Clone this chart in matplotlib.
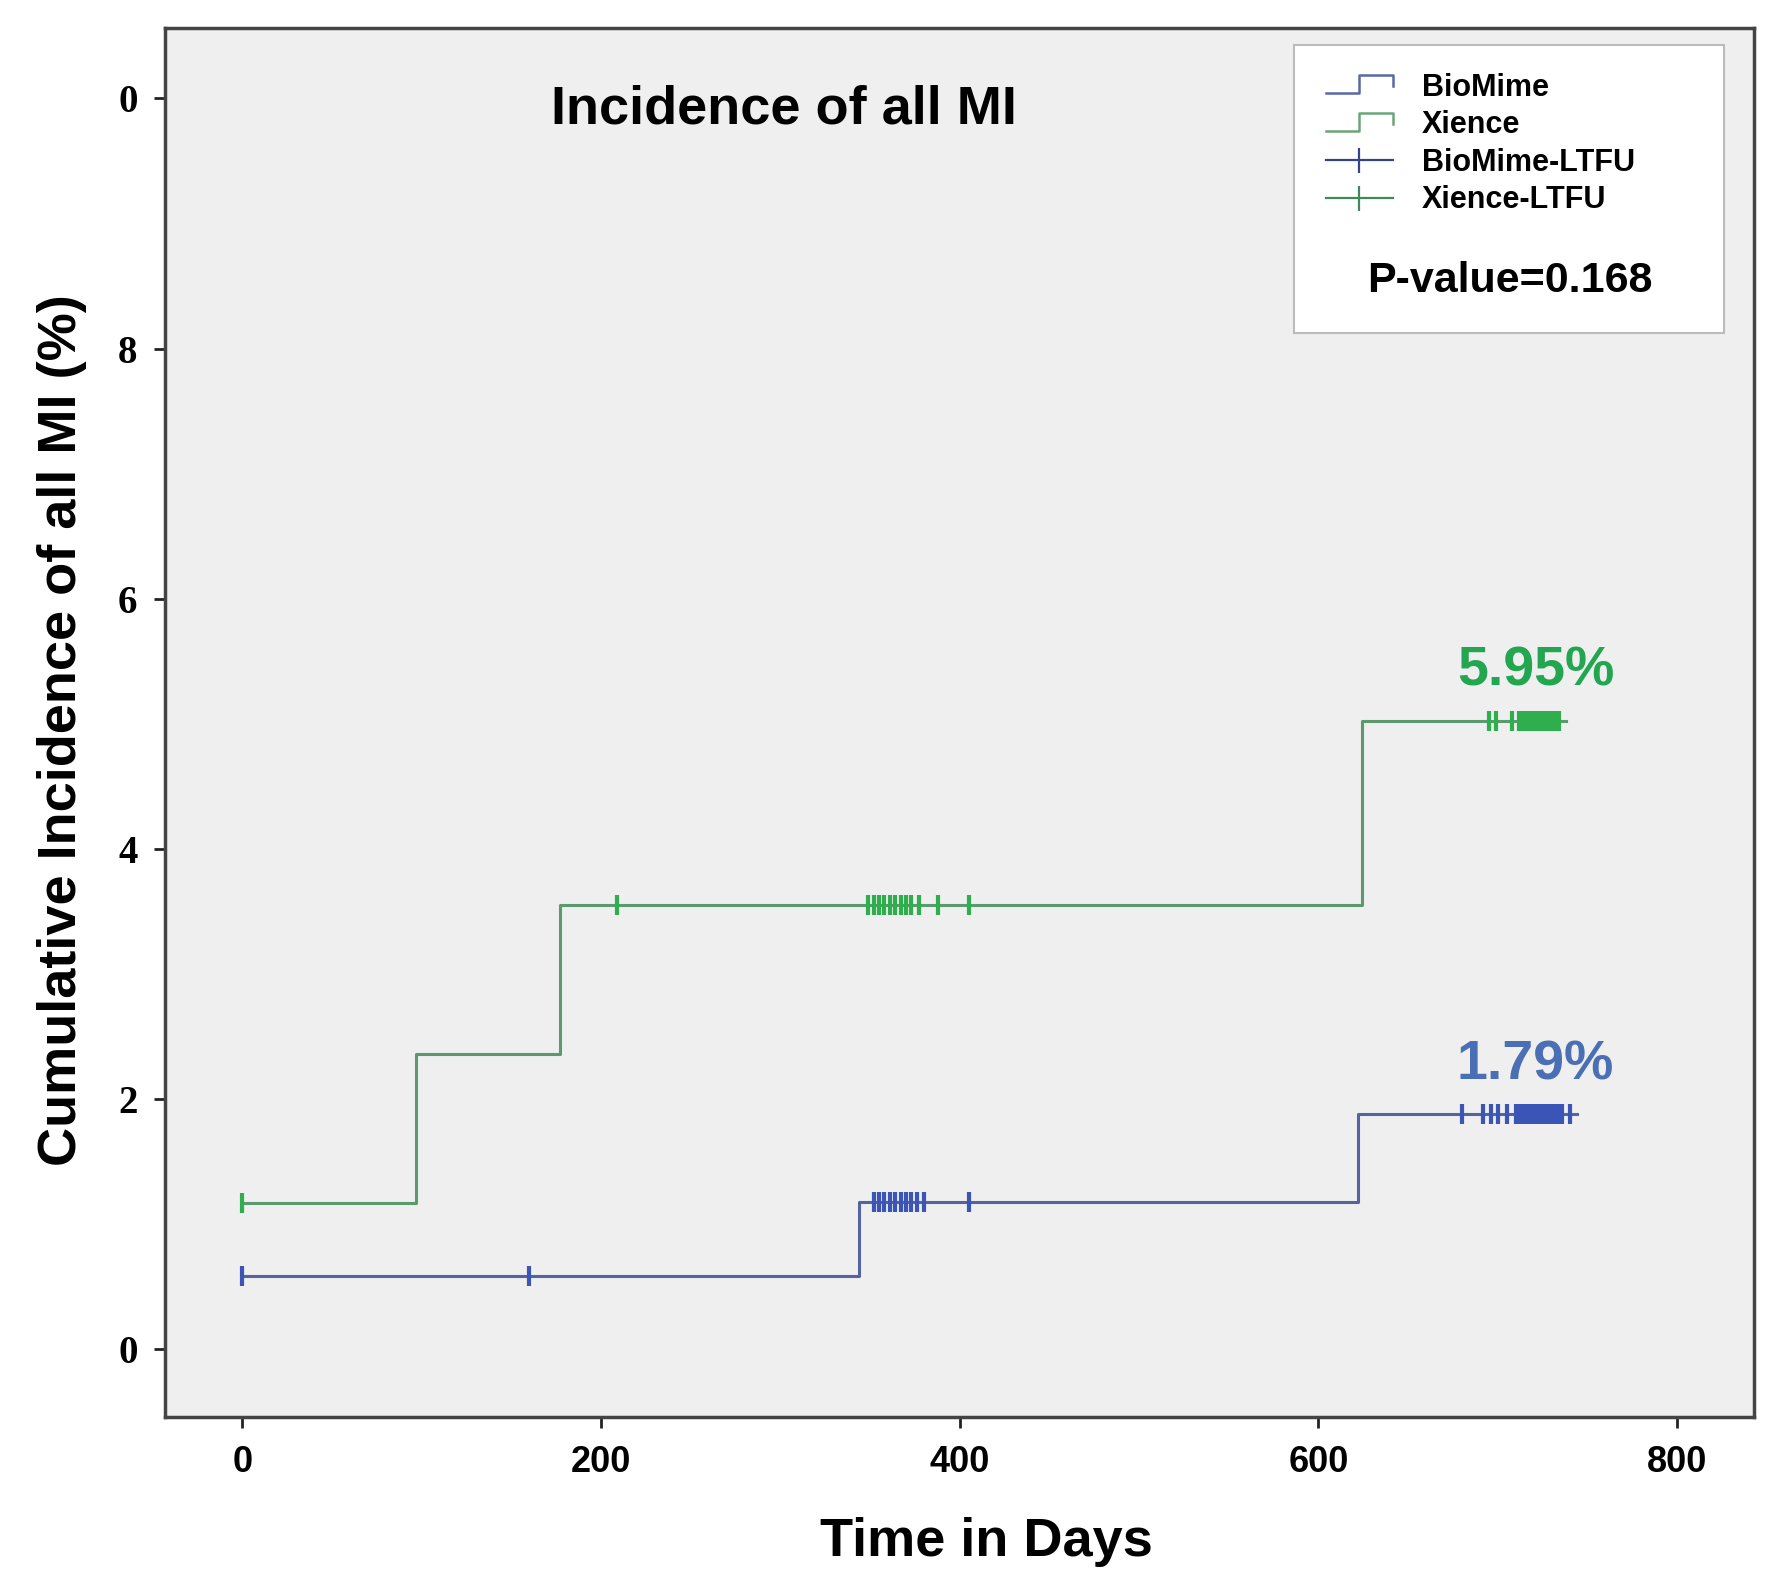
import numpy as np
import matplotlib
matplotlib.use("Agg")
import matplotlib.pyplot as plt
from matplotlib.lines import Line2D
from matplotlib.patches import Rectangle
from matplotlib.legend_handler import HandlerBase

# step curves (days, cumulative incidence %)
biomime_t = [0, 344, 622, 744]
biomime_y = [0.59, 1.18, 1.88, 1.88]
xience_t = [0, 97, 177, 624, 738]
xience_y = [1.17, 2.36, 3.55, 5.02, 5.02]

# censored (LTFU) times
biomime_censor = [0, 160, 352, 355, 358, 361, 364, 367, 370, 373, 376, 380, 405,
                  680, 692, 696, 700, 705, 710, 712, 714, 716, 718, 720, 722, 724,
                  726, 728, 730, 732, 734, 736, 740]
xience_censor = [0, 209, 349, 352, 355, 358, 361, 364, 367, 370, 373, 377, 388, 405,
                 695, 699, 708, 712, 714, 716, 718, 720, 722, 724, 726, 728, 730,
                 732, 734]

final_labels = ["5.95%", "1.79%"]
x_ticks = [0, 200, 400, 600, 800]
y_ticks = [0, 2, 4, 6, 8, 10]
y_ticklabels = ["0", "2", "4", "6", "8", "0"]

blue_line, blue_mark, blue_txt = "#5564a0", "#3a55b5", "#4a6fb5"
green_line, green_mark, green_txt = "#5a9a6c", "#2fae4e", "#22a650"

SANS = ["Liberation Sans", "DejaVu Sans"]


def level_at(t, times, vals):
    idx = np.searchsorted(times, t, side="right") - 1
    return np.array(vals)[np.clip(idx, 0, len(vals) - 1)]


class StepHandler(HandlerBase):
    def create_artists(self, legend, orig_handle, xdescent, ydescent,
                       width, height, fontsize, trans):
        xs = np.array([0, 0.5, 0.5, 1, 1]) * width - xdescent
        ys = np.array([0.1, 0.1, 0.95, 0.95, 0.45]) * height - ydescent
        ln = Line2D(xs, ys, color=orig_handle.get_color(), lw=1.8, transform=trans)
        return [ln]


fig = plt.figure(figsize=(17.72, 15.77), dpi=100)
ax = fig.add_axes([0.0933, 0.1015, 0.8967, 0.8805])
ax.set_facecolor("#efefef")

ax.step(biomime_t, biomime_y, where="post", color=blue_line, lw=2.2)
ax.step(xience_t, xience_y, where="post", color=green_line, lw=2.2)

ax.plot(biomime_censor, level_at(biomime_censor, biomime_t, biomime_y), ls="none",
        marker="|", ms=14, mew=3, color=blue_mark)
ax.plot(xience_censor, level_at(xience_censor, xience_t, xience_y), ls="none",
        marker="|", ms=14, mew=3, color=green_mark)

ax.text(721, 5.42, final_labels[0], color=green_txt, fontsize=40, fontweight="bold",
        family=SANS, ha="center", va="center")
ax.text(721, 2.27, final_labels[1], color=blue_txt, fontsize=40, fontweight="bold",
        family=SANS, ha="center", va="center")

ax.text(302, 9.91, "Incidence of all MI", fontsize=39, fontweight="bold",
        family=SANS, ha="center", va="center")

ax.set_xlim(-43, 843)
ax.set_ylim(-0.54, 10.56)
ax.set_xticks(x_ticks)
ax.set_yticks(y_ticks)
ax.set_yticklabels(y_ticklabels)
for lab in ax.get_xticklabels():
    lab.set_family(["Liberation Sans Narrow", "Liberation Sans"])
    lab.set_fontweight("bold")
    lab.set_fontsize(26)
for lab in ax.get_yticklabels():
    lab.set_family(["Liberation Serif", "DejaVu Serif"])
    lab.set_fontweight("bold")
    lab.set_fontsize(28)
ax.tick_params(axis="both", direction="out", length=8, width=2, color="#222222")
ax.tick_params(axis="x", pad=12)
ax.tick_params(axis="y", pad=12)
for s in ax.spines.values():
    s.set_color("#444444")
    s.set_linewidth(2.5)

fig.text(0.5567, 0.0222, "Time in Days", fontsize=39, fontweight="bold",
         family=SANS, ha="center", va="center")
fig.text(0.035, 0.537, "Cumulative Incidence of all MI (%)", fontsize=39,
         fontweight="bold", family=SANS, ha="center", va="center", rotation=90)

# legend box
box = Rectangle((0.7106, 0.7804), 0.2705, 0.2074, transform=ax.transAxes,
                facecolor="white", edgecolor="#bbbbbb", lw=1.5, zorder=4)
ax.add_patch(box)

handles = [
    Line2D([], [], color="#5b68a3"),
    Line2D([], [], color="#6aa57a"),
    Line2D([], [], color="#34448a", marker="|", ms=18, mew=1.6, lw=1.6),
    Line2D([], [], color="#3e8a58", marker="|", ms=18, mew=1.6, lw=1.6),
]
leg = ax.legend(handles, ["BioMime", "Xience", "BioMime-LTFU", "Xience-LTFU"],
                handler_map={handles[0]: StepHandler(), handles[1]: StepHandler()},
                loc="upper left", bbox_to_anchor=(0.713, 0.988), frameon=False,
                prop={"family": SANS, "weight": "bold", "size": 22},
                handlelength=2.2, handletextpad=0.95, labelspacing=0.25)
leg.set_zorder(5)
ax.text(0.846, 0.818, "P-value=0.168", transform=ax.transAxes, fontsize=31,
        fontweight="bold", family=SANS, ha="center", va="center", zorder=6)

fig.savefig("out.png", dpi=100, facecolor="white")
